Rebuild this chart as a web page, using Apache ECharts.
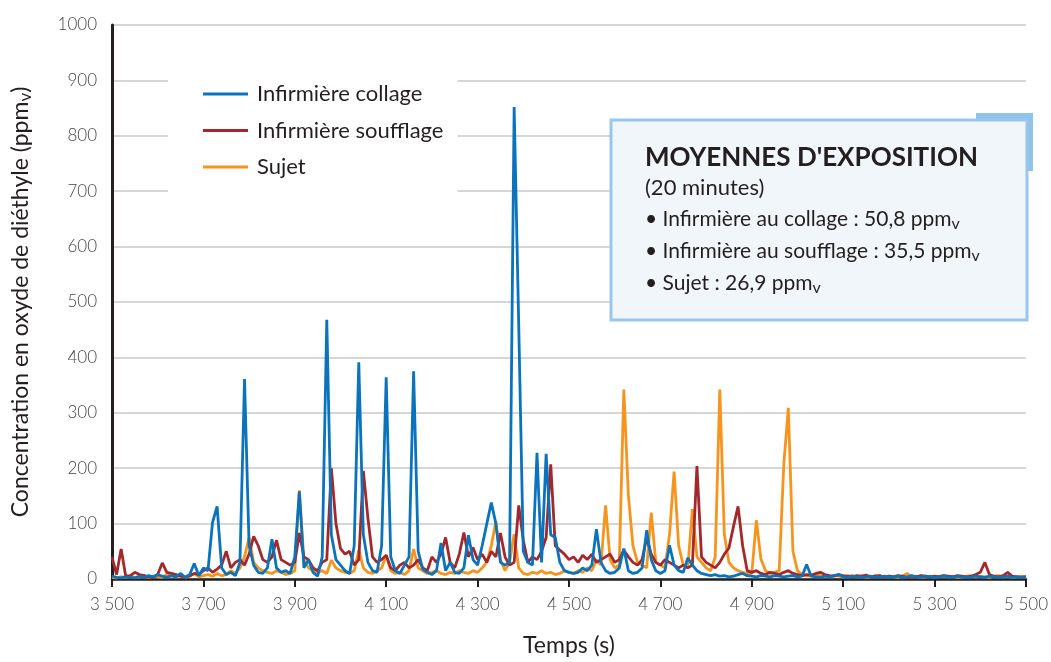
<!DOCTYPE html>
<html>
<head>
<meta charset="utf-8">
<script src="https://cdn.jsdelivr.net/npm/echarts@6/dist/echarts.min.js"></script>
<style>
  html, body { margin: 0; padding: 0; background: #fff; }
  #main { width: 1051px; height: 662px; }
</style>
</head>
<body>
<div id="main"></div>
<script>
// mesures toutes les 10 s, de 3500 s à 5500 s
const tStart = 3500;
const tStep = 10;

const seriesNames = ['Infirmière collage', 'Infirmière soufflage', 'Sujet'];

const collage = [
  5, 3, 2, 4, 3, 2, 5, 3, 6, 4,
  8, 5, 3, 6, 4, 10, 3, 8, 28, 6,
  20, 15, 102, 131, 20, 8, 12, 6, 30, 361,
  60, 25, 12, 10, 20, 72, 20, 12, 15, 10,
  40, 158, 20, 35, 12, 5, 40, 468, 80, 35,
  25, 15, 10, 60, 391, 80, 30, 15, 12, 60,
  364, 40, 15, 10, 25, 40, 375, 50, 18, 12,
  8, 15, 65, 15, 30, 12, 10, 20, 79, 35,
  25, 60, 99, 138, 100, 30, 25, 30, 852, 460,
  50, 30, 25, 228, 30, 226, 80, 75, 30, 15,
  12, 10, 12, 20, 15, 25, 90, 30, 15, 10,
  12, 20, 55, 15, 10, 12, 20, 88, 35, 15,
  10, 15, 61, 25, 15, 12, 38, 25, 15, 10,
  8, 6, 8, 5, 6, 4, 5, 8, 10, 6,
  5, 4, 6, 5, 4, 6, 5, 4, 5, 6,
  4, 5, 26, 5, 4, 3, 5, 4, 6, 8,
  4, 3, 5, 4, 3, 4, 5, 3, 4, 5,
  3, 4, 5, 3, 4, 6, 4, 3, 5, 4,
  3, 4, 5, 4, 3, 5, 4, 3, 4, 5,
  4, 3, 5, 4, 3, 4, 5, 3, 4, 3,
  4
];

const soufflage = [
  40, 8, 54, 5, 6, 12, 8, 6, 4, 3,
  8, 29, 12, 10, 8, 5, 3, 6, 10, 8,
  15, 20, 12, 18, 25, 50, 20, 30, 35, 25,
  45, 77, 60, 35, 30, 40, 70, 35, 30, 25,
  30, 83, 40, 35, 20, 15, 30, 35, 200, 100,
  55, 45, 50, 25, 35, 195, 110, 40, 30, 35,
  43, 20, 15, 25, 30, 20, 25, 35, 20, 15,
  40, 30, 45, 75, 30, 20, 45, 84, 40, 57,
  35, 45, 30, 50, 40, 83, 40, 25, 30, 133,
  70, 30, 40, 35, 50, 75, 207, 60, 52, 45,
  35, 40, 30, 43, 35, 45, 30, 35, 40, 45,
  30, 35, 52, 40, 30, 25, 35, 75, 45, 30,
  25, 35, 30, 25, 20, 25, 20, 25, 204, 40,
  30, 25, 20, 30, 45, 56, 95, 131, 60, 15,
  12, 15, 10, 8, 12, 10, 8, 12, 15, 10,
  8, 6, 8, 7, 10, 12, 8, 6, 5, 8,
  6, 5, 4, 6, 5, 7, 4, 5, 6, 4,
  5, 4, 6, 5, 3, 5, 4, 6, 5, 4,
  5, 4, 6, 5, 4, 6, 5, 4, 5, 8,
  12, 30, 8, 5, 4, 6, 12, 5, 4, 3,
  4
];

const sujet = [
  3, 2, 4, 3, 5, 3, 4, 6, 3, 5,
  4, 3, 8, 5, 4, 6, 3, 5, 10, 4,
  6, 8, 5, 10, 6, 8, 15, 10, 20, 40,
  75, 30, 20, 15, 12, 10, 15, 12, 8, 10,
  15, 160, 35, 20, 15, 12, 15, 10, 34, 20,
  15, 12, 10, 15, 52, 20, 12, 10, 15, 20,
  43, 15, 10, 12, 8, 15, 54, 20, 15, 10,
  12, 15, 10, 8, 12, 10, 15, 12, 10, 15,
  12, 20, 30, 60, 104, 35, 15, 30, 81, 20,
  10, 8, 12, 10, 15, 10, 12, 8, 10, 15,
  12, 10, 15, 12, 20, 15, 35, 25, 133, 35,
  20, 25, 342, 150, 60, 30, 25, 20, 120, 30,
  25, 20, 80, 194, 60, 25, 20, 126, 40, 30,
  20, 15, 40, 342, 80, 30, 20, 15, 12, 10,
  10, 106, 36, 15, 10, 12, 15, 206, 309, 50,
  15, 8, 6, 5, 8, 6, 5, 4, 6, 5,
  4, 5, 6, 4, 5, 3, 4, 6, 5, 4,
  5, 4, 3, 5, 10, 4, 5, 3, 4, 5,
  4, 5, 6, 4, 5, 3, 4, 5, 6, 4,
  5, 4, 3, 5, 6, 4, 5, 3, 4, 5,
  4
];

const boxLines = [
  '• Infirmière au collage : 50,8 ppm{v|v}',
  '• Infirmière au soufflage : 35,5 ppm{v|v}',
  '• Sujet : 26,9 ppm{v|v}'
];

const colors = { collage: '#0a73bb', soufflage: '#a3282b', sujet: '#f7941e' };
const FONT = 'Lato';

function toPairs(arr) {
  return arr.map((v, i) => [tStart + i * tStep, v]);
}

const chart = echarts.init(document.getElementById('main'));

const subRich = {
  v: { fontFamily: FONT, fontSize: 16, lineHeight: 16, verticalAlign: 'bottom', color: '#231f20' }
};

const boxText = boxLines.map((txt, i) => ({
  type: 'text',
  x: 645,
  y: 219 + i * 32,
  z: 12,
  style: {
    text: txt,
    fontFamily: FONT,
    fontSize: 21,
    lineHeight: 25,
    fill: '#231f20',
    verticalAlign: 'middle',
    rich: subRich
  }
}));

chart.setOption({
  animation: false,
  textStyle: { fontFamily: FONT },
  grid: { left: 112, right: 21, top: 25, bottom: 80 },
  legend: {
    data: seriesNames,
    orient: 'vertical',
    left: 168,
    top: 60,
    padding: [23, 14, 20, 35],
    backgroundColor: '#fff',
    icon: 'rect',
    itemWidth: 45,
    itemHeight: 3,
    itemGap: 14.5,
    textStyle: { fontFamily: FONT, fontSize: 22, color: '#231f20', padding: [0, 0, 0, 4] }
  },
  xAxis: {
    type: 'value',
    min: 3500,
    max: 5500,
    interval: 200,
    name: 'Temps (s)',
    nameLocation: 'middle',
    nameGap: 55,
    nameTextStyle: { fontFamily: FONT, fontSize: 23, color: '#231f20' },
    axisLine: { show: true, onZero: false, lineStyle: { color: '#231f20', width: 2.5 } },
    axisTick: { show: true, length: 8, lineStyle: { color: '#231f20', width: 2 } },
    axisLabel: {
      margin: 17,
      fontSize: 17,
      fontWeight: 300,
      color: '#444',
      formatter: v => String(v).replace(/\B(?=(\d{3})+(?!\d))/g, ' ')
    },
    splitLine: { show: false }
  },
  yAxis: {
    type: 'value',
    min: 0,
    max: 1000,
    interval: 100,
    name: '{a|Concentration en oxyde de diéthyle (ppm}{s|v}{a|)}',
    nameLocation: 'middle',
    nameGap: 78,
    nameTextStyle: {
      rich: {
        a: { fontFamily: FONT, fontSize: 23, lineHeight: 26, color: '#231f20' },
        s: { fontFamily: FONT, fontSize: 17, lineHeight: 17, verticalAlign: 'bottom', color: '#231f20' }
      }
    },
    axisLine: { show: true, lineStyle: { color: '#231f20', width: 3 } },
    axisTick: { show: false },
    axisLabel: { margin: 15, fontSize: 17, fontWeight: 300, color: '#444', formatter: v => String(v) },
    splitLine: { show: true, lineStyle: { color: '#c9c9c9', width: 1.5 } }
  },
  series: [
    {
      name: 'Sujet', type: 'line', data: toPairs(sujet), showSymbol: false, symbol: 'none',
      color: colors.sujet, lineStyle: { width: 2.8, color: colors.sujet }
    },
    {
      name: 'Infirmière soufflage', type: 'line', data: toPairs(soufflage), showSymbol: false, symbol: 'none',
      color: colors.soufflage, lineStyle: { width: 2.8, color: colors.soufflage }
    },
    {
      name: 'Infirmière collage', type: 'line', data: toPairs(collage), showSymbol: false, symbol: 'none',
      color: colors.collage, lineStyle: { width: 2.8, color: colors.collage }
    }
  ],
  graphic: [
    { type: 'rect', z: 10, shape: { x: 976, y: 113, width: 57, height: 58 }, style: { fill: '#8fc3ea' } },
    {
      type: 'rect', z: 11,
      shape: { x: 611, y: 120, width: 416, height: 200 },
      style: { fill: '#f1f6fb', stroke: '#98c7eb', lineWidth: 3 }
    },
    {
      type: 'text', x: 645, y: 158, z: 12,
      style: { text: "MOYENNES D'EXPOSITION", fontFamily: FONT, fontWeight: 'bold', fontSize: 26, fill: '#231f20', verticalAlign: 'middle' }
    },
    {
      type: 'text', x: 645, y: 188, z: 12,
      style: { text: '(20 minutes)', font: '22px Lato', fill: '#231f20', verticalAlign: 'middle' }
    }
  ].concat(boxText)
});
</script>
</body>
</html>
